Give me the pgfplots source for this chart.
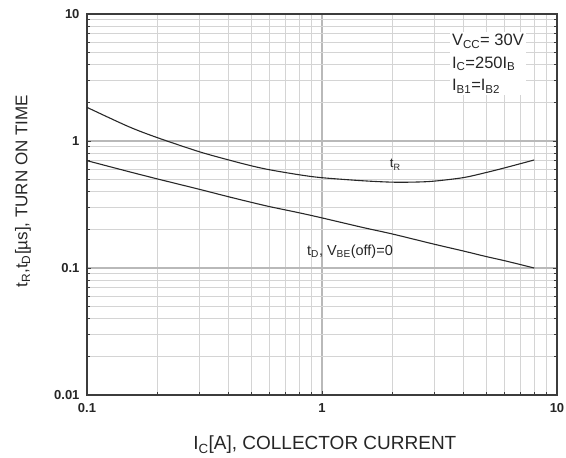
\documentclass[border=0pt]{standalone}
\usepackage{fontspec}
\setmainfont{Liberation Sans}
\usepackage{pgfplots}
\pgfplotsset{compat=1.18}
\definecolor{gridmaj}{RGB}{185,185,185}
\definecolor{gridmin}{RGB}{212,212,212}
\definecolor{axisc}{RGB}{60,60,60}
\definecolor{curve}{RGB}{40,40,40}
\begin{document}
\begin{tikzpicture}
\begin{axis}[
    xmode=log, ymode=log,
    width=470pt, height=381pt,
    scale only axis,
    xmin=0.1, xmax=10,
    ymin=0.01, ymax=10,
    xtick={0.1,1,10}, xticklabels={0.1,1,10},
    ytick={0.01,0.1,1,10}, yticklabels={0.01,0.1,1,10},
    grid=both,
    major grid style={gridmaj, line width=1.1pt},
    minor grid style={gridmin, line width=0.9pt},
    axis line style={axisc, line width=1.2pt},
    tick style={axisc, line width=0.8pt},
    major tick length=4pt, minor tick length=3pt,
    xtick pos=bottom, ytick pos=both,
    ticklabel style={font=\fontsize{13}{14}\selectfont\bfseries, text=black!85},
    xticklabel style={yshift=-5pt},
    yticklabel style={xshift=-4pt},
    xlabel={I\textsubscript{C}[A], COLLECTOR CURRENT},
    ylabel={t\textsubscript{R},t\textsubscript{D}[\textmu s], TURN ON TIME},
    xlabel style={font=\fontsize{19}{20}\selectfont, text=black!85,
      at={(axis description cs:0.506,-0.131)}, anchor=center},
    ylabel style={font=\fontsize{17}{18}\selectfont, text=black!85,
      at={(axis description cs:-0.136,0.535)}, anchor=center},
]
% t_R
\addplot[curve, line width=1.1pt, smooth] coordinates {
  (0.1,1.84) (0.15,1.30) (0.2,1.06) (0.3,0.824) (0.4,0.710) (0.5,0.638)
  (0.6,0.593) (0.8,0.542) (1.0,0.514) (1.5,0.486) (2,0.474) (2.5,0.475)
  (3,0.483) (4,0.515) (5,0.565) (6,0.615) (8,0.709)};
% t_D
\addplot[curve, line width=1.1pt, smooth] coordinates {
  (0.1,0.70) (0.15,0.575) (0.2,0.502) (0.3,0.417) (0.4,0.364) (0.5,0.329)
  (0.6,0.304) (0.8,0.272) (1.0,0.248) (1.5,0.208) (2,0.185) (3,0.154)
  (4,0.136) (5,0.123) (6,0.114) (8,0.100)};
\node[font=\fontsize{13}{14}\selectfont, text=black!85] at (axis cs:2.05,0.65) {t\textsubscript{R}};
\node[anchor=west, inner sep=0pt, font=\fontsize{14.5}{16}\selectfont, text=black!85] at (axis cs:0.863,0.134) {t\textsubscript{D}, V\textsubscript{BE}(off)=0};
\node[anchor=north west, fill=white, inner sep=2pt, align=left,
      font=\fontsize{16.5}{22.5}\selectfont, text=black!85]
  at (rel axis cs:0.772,0.953) {V\textsubscript{CC}= 30V\\I\textsubscript{C}=250I\textsubscript{B}\\I\textsubscript{B1}=I\textsubscript{B2}};
\end{axis}
\pgfresetboundingbox
\path[use as bounding box] ([shift={(-87pt,-63pt)}]current axis.south west)
  rectangle ([shift={(9pt,14pt)}]current axis.north east);
\end{tikzpicture}
\end{document}
